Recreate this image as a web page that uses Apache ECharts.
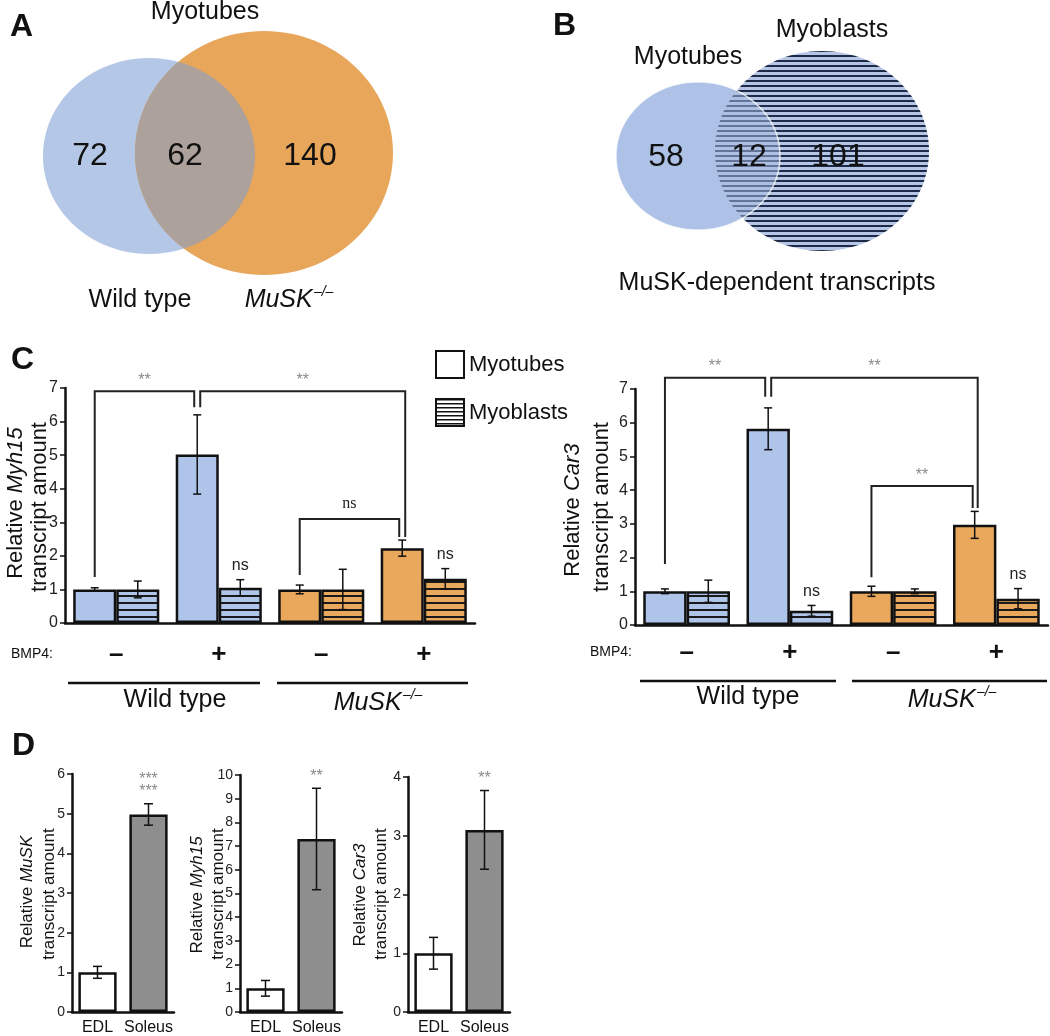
<!DOCTYPE html>
<html>
<head>
<meta charset="utf-8">
<title>MuSK-dependent transcripts</title>
<script src="https://cdn.jsdelivr.net/npm/echarts@6/dist/echarts.min.js"></script>
<style>
  html, body { margin: 0; padding: 0; background: #fff; }
  #chart { width: 1050px; height: 1036px; }
</style>
</head>
<body>
<div id="chart"></div>
<script>
// ---- data ----
var vennACounts = [72, 62, 140]          // wild type only, both, MuSK-/- only
var vennBCounts = [58, 12, 101]          // myotubes only, both, myoblasts only

var bmp4 = ['\u2013', '+', '\u2013', '+']
var genotype = ['wt', 'wt', 'musk', 'musk']

var myh15Tubes = [1.0, 5.02, 1.0, 2.23]
var myh15TubesErr = [0.05, 1.18, 0.13, 0.24]
var myh15Blasts = [1.0, 1.05, 1.0, 1.32]
var myh15BlastsErr = [0.25, 0.24, 0.6, 0.3]

var car3Tubes = [1.0, 5.82, 1.0, 2.97]
var car3TubesErr = [0.07, 0.62, 0.15, 0.4]
var car3Blasts = [1.0, 0.42, 1.0, 0.78]
var car3BlastsErr = [0.33, 0.16, 0.07, 0.3]

var blastSig = ['', 'ns', '', 'ns']

// [fromGroup, toGroup, top, fromEnd, toEnd, fromDx, toDx]
var myh15Brackets = [[0, 1, 6.9, 1.37, 6.43, 0, -3], [1, 3, 6.9, 6.43, 2.56, 3, 3], [2, 3, 3.1, 1.43, 2.56, 0, -3]]
var myh15BracketSig = ['**', '**', 'ns']
var car3Brackets = [[0, 1, 7.33, 1.81, 6.77, 0, -3], [1, 3, 7.33, 6.77, 3.47, 3, 3], [2, 3, 4.12, 1.42, 3.47, 0, -2]]
var car3BracketSig = ['**', '**', '**']

var muscles = ['EDL', 'Soleus']
var muskD = [1.0, 4.98]
var muskDErr = [0.15, 0.27]
var myh15D = [1.0, 7.3]
var myh15DErr = [0.33, 2.14]
var car3D = [1.0, 3.1]
var car3DErr = [0.27, 0.67]
var muskDSig = ['', '***\n***']
var myh15DSig = ['', '**']
var car3DSig = ['', '**']

// ---- styling ----
var FONT = '"Liberation Sans", Arial, Helvetica, sans-serif'
var INK = '#111'
var SIG = '#8a8a8a'
var colors = { wt: '#AEC4E8', musk: '#E9A85C' }
var muscleFill = ['#ffffff', '#8E8E8E']
var C_GAP = 0.16

function stripes (bg, ink, period, lw) {
  var c = document.createElement('canvas')
  c.width = 4
  c.height = period
  var ctx = c.getContext('2d')
  ctx.fillStyle = bg
  ctx.fillRect(0, 0, 4, period)
  ctx.fillStyle = ink
  ctx.fillRect(0, 0, 4, lw)
  return { image: c, repeat: 'repeat' }
}

function txt (x, y, text, size, extra) {
  var style = { text: text, fontSize: size, fontFamily: FONT, fill: INK, align: 'center', verticalAlign: 'middle' }
  for (var k in (extra || {})) style[k] = extra[k]
  return { type: 'text', x: x, y: y, style: style }
}

function vtxt (x, y, plain, italic, size) {
  // rotated axis title, italic gene name
  var rich = {
    n: { fontSize: size, fontFamily: FONT, fill: INK },
    i: { fontSize: size, fontFamily: FONT, fill: INK, fontStyle: 'italic' }
  }
  var text = '{n|' + plain + '}' + (italic ? '{i|' + italic + '}' : '')
  return { type: 'text', x: x, y: y, rotation: Math.PI / 2, style: { text: text, rich: rich, align: 'center', verticalAlign: 'middle' } }
}

function musk (cx, cy, size) {
  var sup = Math.round(size * 0.55)
  var w1 = 2.73 * size
  var w2 = 1.39 * sup
  var left = cx - (w1 + 1 + w2) / 2
  return {
    type: 'group',
    children: [
      txt(left, cy, 'MuSK', size, { align: 'left', fontStyle: 'italic' }),
      txt(left + w1 + 1, cy - size * 0.3, '\u2013/\u2013', sup, { align: 'left', fontStyle: 'italic' })
    ]
  }
}

function lens (a, b, n) {
  var inside = function (e, x, y) {
    return Math.pow((x - e.cx) / e.rx, 2) + Math.pow((y - e.cy) / e.ry, 2) <= 1
  }
  var pts = []
  var k, t, x, y
  for (k = 0; k <= n; k++) {
    t = -Math.PI / 2 + Math.PI * k / n
    x = a.cx + a.rx * Math.cos(t)
    y = a.cy + a.ry * Math.sin(t)
    if (inside(b, x, y)) pts.push([x, y])
  }
  for (k = 0; k <= n; k++) {
    t = Math.PI / 2 + Math.PI * k / n
    x = b.cx + b.rx * Math.cos(t)
    y = b.cy + b.ry * Math.sin(t)
    if (inside(a, x, y)) pts.push([x, y])
  }
  return pts
}

function xAx (grid, data, size, margin, weight) {
  return {
    type: 'category', gridIndex: grid, data: data,
    axisLine: { show: true, lineStyle: { color: INK, width: 2.5 } },
    axisTick: { show: false },
    axisLabel: { interval: 0, fontSize: size, color: INK, fontFamily: FONT, margin: margin, fontWeight: weight || 'normal' }
  }
}

function yAx (grid, max, size) {
  return {
    type: 'value', gridIndex: grid, min: 0, max: max, interval: 1,
    axisLine: { show: true, lineStyle: { color: INK, width: 2.5 } },
    axisTick: { show: true, length: 5, lineStyle: { color: INK, width: 1.5 } },
    axisLabel: { fontSize: size, color: '#222', fontFamily: FONT, margin: 7 },
    splitLine: { show: false }
  }
}

function errSeries (grid, values, errs, side, barFrac, labels, cap) {
  return {
    type: 'custom', xAxisIndex: grid, yAxisIndex: grid, z: 5, clip: false,
    encode: { x: 0, y: 1 },
    data: values.map(function (v, i) { return [i, v, errs[i]] }),
    renderItem: function (params, api) {
      var i = api.value(0)
      var v = api.value(1)
      var e = api.value(2)
      var bw = api.size([1, 0])[0] * barFrac
      var x = api.coord([i, v])[0] + side * bw / 2
      var yt = api.coord([i, v + e])[1]
      var yb = api.coord([i, v - e])[1]
      var ls = { stroke: INK, lineWidth: 1.5 }
      var kids = [
        { type: 'line', shape: { x1: x, y1: yt, x2: x, y2: yb }, style: ls },
        { type: 'line', shape: { x1: x - cap, y1: yt, x2: x + cap, y2: yt }, style: ls },
        { type: 'line', shape: { x1: x - cap, y1: yb, x2: x + cap, y2: yb }, style: ls }
      ]
      var lab = labels && labels[params.dataIndex]
      if (lab) {
        var star = lab.indexOf('*') >= 0
        kids.push({
          type: 'text', x: x, y: yt - (star ? 6 : 8),
          style: { text: lab, fontSize: star ? 16 : 16, lineHeight: 12, fontFamily: FONT, fill: star ? SIG : '#222', align: 'center', verticalAlign: 'bottom' }
        })
      }
      return { type: 'group', children: kids }
    }
  }
}

function bracketSeries (grid, brackets, labels) {
  var frac = (1 - C_GAP) / 2
  return {
    type: 'custom', xAxisIndex: grid, yAxisIndex: grid, z: 6, clip: false,
    encode: { x: 0, y: 2 },
    data: brackets,
    renderItem: function (params, api) {
      var bw = api.size([1, 0])[0] * frac
      var x1 = api.coord([api.value(0), 0])[0] - bw / 2 + api.value(5)
      var x2 = api.coord([api.value(1), 0])[0] - bw / 2 + api.value(6)
      var yT = api.coord([0, api.value(2)])[1]
      var y1 = api.coord([0, api.value(3)])[1]
      var y2 = api.coord([0, api.value(4)])[1]
      var lab = labels[params.dataIndex]
      var star = lab.indexOf('*') >= 0
      return {
        type: 'group',
        children: [
          { type: 'polyline', shape: { points: [[x1, y1], [x1, yT], [x2, yT], [x2, y2]] }, style: { stroke: '#222', lineWidth: 2, fill: null } },
          {
            type: 'text', x: (x1 + x2) / 2, y: yT - (star ? 3 : 7),
            style: { text: lab, fontSize: star ? 16 : 16, fontFamily: star ? FONT : '"Liberation Serif", serif', fill: star ? SIG : '#222', align: 'center', verticalAlign: 'bottom' }
          }
        ]
      }
    }
  }
}

function panelC (grid, tubes, tubesErr, blasts, blastsErr, brackets, bracketSig) {
  var frac = (1 - C_GAP) / 2
  return [
    {
      type: 'bar', name: 'Myotubes', xAxisIndex: grid, yAxisIndex: grid,
      barGap: '0%', barCategoryGap: (C_GAP * 100) + '%',
      itemStyle: { color: '#fff', borderColor: INK, borderWidth: 2.5 },
      data: tubes.map(function (v, i) { return { value: v, itemStyle: { color: colors[genotype[i]] } } })
    },
    {
      type: 'bar', name: 'Myoblasts', xAxisIndex: grid, yAxisIndex: grid,
      barGap: '0%', barCategoryGap: (C_GAP * 100) + '%',
      itemStyle: { color: stripes('#fff', INK, 4, 1.5), borderColor: INK, borderWidth: 2.5 },
      data: blasts.map(function (v, i) { return { value: v, itemStyle: { color: stripes(colors[genotype[i]], '#1a1a1a', 7, 2) } } })
    },
    errSeries(grid, tubes, tubesErr, -1, frac, null, 4),
    errSeries(grid, blasts, blastsErr, 1, frac, blastSig, 4),
    bracketSeries(grid, brackets, bracketSig)
  ]
}

function panelD (grid, name, values, errs, sig) {
  return [
    {
      type: 'bar', name: name, xAxisIndex: grid, yAxisIndex: grid, barCategoryGap: '25%',
      itemStyle: { borderColor: INK, borderWidth: 2.5 },
      data: values.map(function (v, i) { return { value: v, itemStyle: { color: muscleFill[i] } } })
    },
    errSeries(grid, values, errs, 0, 0.75, sig, 4.5)
  ]
}

// ---- Venn geometry (layout only) ----
var aWT = { cx: 149, cy: 156, rx: 106, ry: 98 }
var aMusk = { cx: 264, cy: 153, rx: 129, ry: 122 }
var bTubes = { cx: 698, cy: 156, rx: 82, ry: 74 }
var bBlasts = { cx: 822, cy: 151, rx: 107, ry: 100 }

function ell (e, style) {
  return { type: 'ellipse', shape: { cx: e.cx, cy: e.cy, rx: e.rx, ry: e.ry }, style: style }
}

var graphics = [
  // panel letters
  txt(10, 27, 'A', 32, { align: 'left', fontWeight: 'bold' }),
  txt(553, 26, 'B', 32, { align: 'left', fontWeight: 'bold' }),
  txt(11, 360, 'C', 32, { align: 'left', fontWeight: 'bold' }),
  txt(12, 746, 'D', 32, { align: 'left', fontWeight: 'bold' }),

  // A
  ell(aWT, { fill: '#B4C7E7' }),
  ell(aMusk, { fill: '#E8A65B' }),
  { type: 'polygon', shape: { points: lens(aWT, aMusk, 240) }, style: { fill: '#ACA29B' } },
  txt(205, 12, 'Myotubes', 25),
  txt(90, 156, String(vennACounts[0]), 32),
  txt(185, 156, String(vennACounts[1]), 32),
  txt(310, 156, String(vennACounts[2]), 32),
  txt(140, 300, 'Wild type', 25),
  musk(289, 300, 25),

  // B
  ell(bTubes, { fill: '#B3C6E7' }),
  ell(bBlasts, { fill: stripes('#B5C5E5', '#1E2A46', 5, 2) }),
  ell(bTubes, { fill: 'rgba(168,190,230,0.5)', stroke: 'rgba(255,255,255,0.75)', lineWidth: 1.5 }),
  txt(832, 30, 'Myoblasts', 25),
  txt(688, 57, 'Myotubes', 25),
  txt(666, 157, String(vennBCounts[0]), 32),
  txt(749, 157, String(vennBCounts[1]), 32),
  txt(838, 157, String(vennBCounts[2]), 32),
  txt(777, 283, 'MuSK-dependent transcripts', 25),

  // C titles and genotype rows
  vtxt(16, 503, 'Relative ', 'Myh15', 22),
  vtxt(40, 507, 'transcript amount', null, 22),
  vtxt(573, 510, 'Relative ', 'Car3', 22),
  vtxt(602, 507, 'transcript amount', null, 22),
  txt(11, 654, 'BMP4:', 14, { align: 'left' }),
  txt(590, 652, 'BMP4:', 14, { align: 'left' }),
  { type: 'line', shape: { x1: 68, y1: 683, x2: 260, y2: 683 }, style: { stroke: INK, lineWidth: 2.5 } },
  { type: 'line', shape: { x1: 277, y1: 683, x2: 468, y2: 683 }, style: { stroke: INK, lineWidth: 2.5 } },
  { type: 'line', shape: { x1: 640, y1: 681, x2: 836, y2: 681 }, style: { stroke: INK, lineWidth: 2.5 } },
  { type: 'line', shape: { x1: 852, y1: 681, x2: 1047, y2: 681 }, style: { stroke: INK, lineWidth: 2.5 } },
  txt(175, 700, 'Wild type', 25),
  musk(378, 703, 25),
  txt(748, 697, 'Wild type', 25),
  musk(952, 700, 25),

  // D titles
  vtxt(27, 892, 'Relative ', 'MuSK', 17),
  vtxt(49, 894, 'transcript amount', null, 17),
  vtxt(197, 895, 'Relative ', 'Myh15', 17),
  vtxt(218, 894, 'transcript amount', null, 17),
  vtxt(360, 895, 'Relative ', 'Car3', 17),
  vtxt(381, 894, 'transcript amount', null, 17)
]

var option = {
  animation: false,
  backgroundColor: '#fff',
  textStyle: { fontFamily: FONT },
  legend: {
    data: ['Myotubes', 'Myoblasts'],
    orient: 'vertical', left: 430, top: 345,
    itemWidth: 28, itemHeight: 27, itemGap: 19,
    icon: 'rect', selectedMode: false,
    itemStyle: { borderColor: INK, borderWidth: 2 },
    textStyle: { fontSize: 22, fontFamily: FONT, color: INK }
  },
  grid: [
    { left: 65, top: 388, width: 410, height: 235 },
    { left: 635, top: 389, width: 413, height: 236 },
    { left: 72, top: 774, width: 102, height: 239 },
    { left: 240, top: 775, width: 102, height: 240 },
    { left: 408, top: 777, width: 102, height: 238 }
  ],
  xAxis: [
    xAx(0, bmp4, 26, 19, 'bold'),
    xAx(1, bmp4, 26, 15, 'bold'),
    xAx(2, muscles, 16, 8),
    xAx(3, muscles, 16, 8),
    xAx(4, muscles, 16, 8)
  ],
  yAxis: [
    yAx(0, 7, 16),
    yAx(1, 7, 16),
    yAx(2, 6, 14),
    yAx(3, 10, 14),
    yAx(4, 4, 14)
  ],
  series: [].concat(
    panelC(0, myh15Tubes, myh15TubesErr, myh15Blasts, myh15BlastsErr, myh15Brackets, myh15BracketSig),
    panelC(1, car3Tubes, car3TubesErr, car3Blasts, car3BlastsErr, car3Brackets, car3BracketSig),
    panelD(2, 'MuSK', muskD, muskDErr, muskDSig),
    panelD(3, 'Myh15', myh15D, myh15DErr, myh15DSig),
    panelD(4, 'Car3', car3D, car3DErr, car3DSig)
  ),
  graphic: graphics
}

var chart = echarts.init(document.getElementById('chart'))
chart.setOption(option)
</script>
</body>
</html>
